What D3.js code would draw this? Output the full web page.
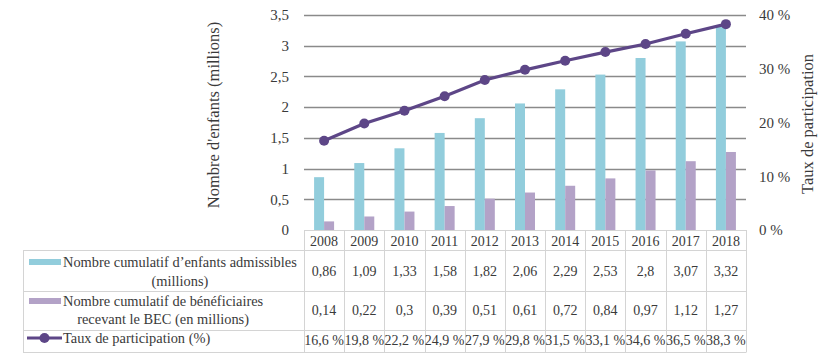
<!DOCTYPE html>
<html><head><meta charset="utf-8">
<script src="https://cdn.jsdelivr.net/npm/d3@7"></script>
<style>body{margin:0;background:#fff}svg{display:block}</style>
</head><body><svg id="c" width="833" height="359" font-family="Liberation Serif"></svg>
<script>
const years = ["2008","2009","2010","2011","2012","2013","2014","2015","2016","2017","2018"];
const eligible = [0.86,1.09,1.33,1.58,1.82,2.06,2.29,2.53,2.8,3.07,3.32];
const recipients = [0.14,0.22,0.3,0.39,0.51,0.61,0.72,0.84,0.97,1.12,1.27];
const rate = [16.6,19.8,22.2,24.9,27.9,29.8,31.5,33.1,34.6,36.5,38.3];
const leftTicks = [0,0.5,1,1.5,2,2.5,3,3.5];
const rightTicks = [0,10,20,30,40];
const seriesNames = [["Nombre cumulatif d\u2019enfants admissibles","(millions)"],["Nombre cumulatif de bénéficiaires","recevant le BEC (en millions)"],["Taux de participation (%)"]];

const FF = "Liberation Serif", TC = "#3a3a3a";
const svg = d3.select("#c");
const fmt = v => String(v).replace(".", ",");
const x = d3.scaleBand().domain(years).range([304,746]);
const y = d3.scaleLinear().domain([0,3.5]).range([230,15]);
const y2 = d3.scaleLinear().domain([0,40]).range([230,15]);
const blue = "#92CDDC", purple = "#B3A2C7", lineC = "#5D4687";
const txt = (sel,size) => sel.attr("font-family",FF).attr("font-size",size).attr("fill",TC);

// gridlines
svg.append("g").selectAll("line").data(leftTicks.filter(d=>d>0)).join("line")
  .attr("x1",304).attr("x2",746).attr("y1",d=>Math.round(y(d))+0.5).attr("y2",d=>Math.round(y(d))+0.5)
  .attr("stroke","#8a8a8a").attr("stroke-width",1.3);

// left axis
const la = svg.append("g").attr("transform","translate(289,0)")
  .call(d3.axisLeft(y).tickValues(leftTicks).tickSize(0).tickPadding(0).tickFormat(fmt));
la.attr("font-family",FF);
la.select(".domain").remove();
txt(la.selectAll("text"),15);
// right axis
const ra = svg.append("g").attr("transform","translate(759,0)")
  .call(d3.axisRight(y2).tickValues(rightTicks).tickSize(0).tickPadding(0).tickFormat(d=>d+" %"));
ra.attr("font-family",FF);
ra.select(".domain").remove();
txt(ra.selectAll("text"),15);

// axis titles
txt(svg.append("text"),16.5).attr("transform","translate(219,115) rotate(-90)").attr("text-anchor","middle").text("Nombre d'enfants (millions)");
txt(svg.append("text"),16.5).attr("transform","translate(813,124) rotate(-90)").attr("text-anchor","middle").text("Taux de participation");

// bars
const bw = 10;
svg.append("g").selectAll("rect").data(years).join("rect")
  .attr("x",d=>x(d)+x.bandwidth()/2-bw).attr("width",bw)
  .attr("y",(d,i)=>y(eligible[i])).attr("height",(d,i)=>y(0)-y(eligible[i])).attr("fill",blue);
svg.append("g").selectAll("rect").data(years).join("rect")
  .attr("x",d=>x(d)+x.bandwidth()/2).attr("width",bw)
  .attr("y",(d,i)=>y(recipients[i])).attr("height",(d,i)=>y(0)-y(recipients[i])).attr("fill",purple);

// line
const line = d3.line().x((d,i)=>x(years[i])+x.bandwidth()/2).y(d=>y2(d));
svg.append("path").datum(rate).attr("d",line).attr("fill","none").attr("stroke",lineC).attr("stroke-width",3.2);
svg.append("g").selectAll("circle").data(rate).join("circle")
  .attr("cx",(d,i)=>x(years[i])+x.bandwidth()/2).attr("cy",d=>y2(d)).attr("r",5).attr("fill",lineC);

// table
const bc = "#d4d4d4";
const tg = svg.append("g");
tg.append("line").attr("x1",304).attr("x2",746).attr("y1",230.5).attr("y2",230.5).attr("stroke",bc);
[250,291,330,352].forEach(yy=>tg.append("line").attr("x1",23).attr("x2",746).attr("y1",yy+0.5).attr("y2",yy+0.5).attr("stroke",bc));
tg.append("line").attr("x1",23.5).attr("x2",23.5).attr("y1",250).attr("y2",352.5).attr("stroke",bc);
years.forEach(yr=>tg.append("line").attr("x1",Math.round(x(yr))+0.5).attr("x2",Math.round(x(yr))+0.5).attr("y1",230).attr("y2",352.5).attr("stroke",bc));
tg.append("line").attr("x1",746.5).attr("x2",746.5).attr("y1",230).attr("y2",352.5).attr("stroke",bc);

const cx = d => x(d)+x.bandwidth()/2;
txt(tg.append("g").selectAll("text").data(years).join("text"),14).attr("x",cx).attr("y",246).attr("text-anchor","middle").text(d=>d);
txt(tg.append("g").selectAll("text").data(eligible).join("text"),14).attr("x",(d,i)=>cx(years[i])).attr("y",276).attr("text-anchor","middle").text(fmt);
txt(tg.append("g").selectAll("text").data(recipients).join("text"),14).attr("x",(d,i)=>cx(years[i])).attr("y",315).attr("text-anchor","middle").text(fmt);
txt(tg.append("g").selectAll("text").data(rate).join("text"),14).attr("x",(d,i)=>cx(years[i])).attr("y",345).attr("text-anchor","middle").text(d=>fmt(d)+" %");

// legend labels
const labY = [[267,286],[306,324],[343]];
const colors = [blue,purple,lineC];
seriesNames.forEach((lines,k)=>{
  const t1 = txt(tg.append("text"),14.4).attr("x",63).attr("y",labY[k][0]).text(lines[0]);
  const w = t1.node().getComputedTextLength();
  if(lines[1]) txt(tg.append("text"),14.4).attr("x",63+w/2).attr("y",labY[k][1]).attr("text-anchor","middle").text(lines[1]);
  const sy = labY[k][0]-5;
  if(k<2) tg.append("rect").attr("x",29).attr("y",sy-3).attr("width",32).attr("height",6).attr("fill",colors[k]);
  else { tg.append("line").attr("x1",27).attr("x2",62).attr("y1",sy).attr("y2",sy).attr("stroke",lineC).attr("stroke-width",3.2);
         tg.append("circle").attr("cx",44.5).attr("cy",sy).attr("r",5).attr("fill",lineC); }
});
</script></body></html>
